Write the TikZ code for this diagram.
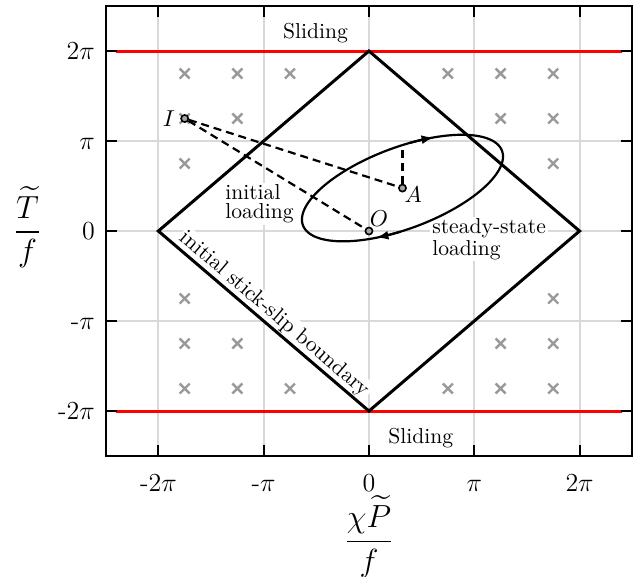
\RequirePackage{fix-cm}
\documentclass[tikz,border=0pt]{standalone}
\usepackage{amsmath}
\usetikzlibrary{arrows.meta}
\begin{document}
\begin{tikzpicture}[x={(52.65pt,0)}, y={(0,45pt)},
  gridline/.style={draw=black!15, line width=1pt},
  crossm/.style={draw=black!40, line width=1.2pt},
  redline/.style={draw=red, line width=1.5pt},
  diam/.style={draw=black, line width=1.5pt},
  curve/.style={draw=black, line width=1.1pt},
  dashline/.style={draw=black, line width=1.1pt, dash pattern=on 4pt off 2.5pt},
  frame/.style={draw=black, line width=1pt},
  tickmark/.style={draw=black, line width=1pt},
  txt/.style={font=\fontsize{10.8}{9.6}\selectfont, inner sep=1pt},
  ticklab/.style={font=\fontsize{13}{15}\selectfont, inner sep=0pt},
  axlab/.style={font=\fontsize{16}{19}\selectfont, inner sep=0pt, anchor=base},
  pt/.style={circle, draw=black, line width=0.8pt, fill=black!35, minimum size=3.6pt, inner sep=0pt},
  tipA/.style={-{Latex[length=6pt,width=4.5pt]}}
]
\useasboundingbox (-3.504,-3.844) rectangle (2.536,2.567);
% grid
\foreach \v in {-2,...,2} {
  \draw[gridline] (\v,-2.5) -- (\v,2.5);
  \draw[gridline] (-2.5,\v) -- (2.5,\v);
}
% crosses
\foreach \p in {(-1.75,1.75),(-1.25,1.75),(-0.75,1.75),(0.75,1.75),(1.25,1.75),(1.75,1.75),
                (-1.75,1.25),(-1.25,1.25),(1.25,1.25),(1.75,1.25),
                (-1.75,0.75),(1.75,0.75),
                (-1.75,-0.75),(1.75,-0.75),
                (-1.75,-1.25),(-1.25,-1.25),(1.25,-1.25),(1.75,-1.25),
                (-1.75,-1.75),(-1.25,-1.75),(-0.75,-1.75),(0.75,-1.75),(1.25,-1.75),(1.75,-1.75)}
  \draw[crossm] \p ++(-2.5pt,-2.5pt) -- ++(5pt,5pt) \p ++(-2.5pt,2.5pt) -- ++(5pt,-5pt);
% sliding lines
\draw[redline] (-2.4,2) -- (2.4,2);
\draw[redline] (-2.4,-2) -- (2.4,-2);
\node[txt] (slidetop) at (-0.508,2.194) {Sliding};
\node[txt] (slidebot) at (0.492,-2.30) {Sliding};
% labels with white background
\node[txt, fill=white, align=left, anchor=west] (initlab) at (-1.387,0.30) {initial\\loading};
\node[txt, fill=white, align=left, anchor=west] (steadylab) at (0.579,-0.089) {steady-state\\loading};
% diamond
\coordinate (L) at (-2,0);
\coordinate (T) at (0,2);
\coordinate (R) at (2,0);
\coordinate (B) at (0,-2);
\path (L) -- (B) node[txt, midway, sloped, above, fill=white, xshift=2pt] (bdlab) {initial stick-slip boundary};
\draw[diam] (L) -- (T) -- (R) -- (B) -- cycle;
% steady-state ellipse
\draw[curve] plot[domain=0:357, samples=120, smooth cycle, variable=\t]
  ({0.3183+0.9549*cos(\t)},{0.4775+0.3501*cos(\t)+0.4775*sin(\t)});
\draw[curve, tipA] plot[domain=86:72, samples=6, variable=\t]
  ({0.3183+0.9549*cos(\t)},{0.4775+0.3501*cos(\t)+0.4775*sin(\t)});
\draw[curve, tipA] plot[domain=-91:-105, samples=6, variable=\t]
  ({0.3183+0.9549*cos(\t)},{0.4775+0.3501*cos(\t)+0.4775*sin(\t)});
% points
\node[pt] (I) at (-1.75,1.25) {};
\node[pt] (O) at (0,0) {};
\node[pt] (A) at (0.3183,0.4775) {};
\coordinate (Atop) at (0.3183,0.9549);
\draw[dashline] (I) -- (A);
\draw[dashline] (I) -- (O);
\draw[dashline] (A) -- (Atop);
\node[txt, font=\fontsize{11.5}{13}\selectfont, anchor=east] (Ilab) at ([xshift=-1.5pt]I.west) {$I$};
\node[txt, font=\fontsize{11.5}{13}\selectfont] (Alab) at ([xshift=5.4pt,yshift=-3.4pt]A.center) {$A$};
\node[txt, font=\fontsize{11.5}{13}\selectfont] (Olab) at ([xshift=5pt,yshift=6.3pt]O.center) {$O$};
% frame and ticks
\draw[frame] (-2.5,-2.5) rectangle (2.5,2.5);
\foreach \v in {-2,...,2} {
  \draw[tickmark] (\v,-2.5) -- ++(0,5.5pt);
  \draw[tickmark] (\v,2.5) -- ++(0,-5.5pt);
  \draw[tickmark] (-2.5,\v) -- ++(5.5pt,0);
  \draw[tickmark] (2.5,\v) -- ++(-5.5pt,0);
}
\foreach \v/\l [count=\k] in {-2/-$2\pi$,-1/-$\pi$,0/$0$,1/$\pi$,2/$2\pi$} {
  \node[ticklab, anchor=base] (xt\k) at (\v,-2.897) {\l};
  \node[ticklab, anchor=base east, yshift=-4.2pt] (yt\k) at (-2.6,\v) {\l};
}
\node[axlab] (xlab) at (0,-3.54) {$\dfrac{\chi\widetilde{P}}{f}$};
\node[axlab] (ylab) at (-3.243,-0.1) {$\dfrac{\widetilde{T}}{f}$};
\end{tikzpicture}
\end{document}
